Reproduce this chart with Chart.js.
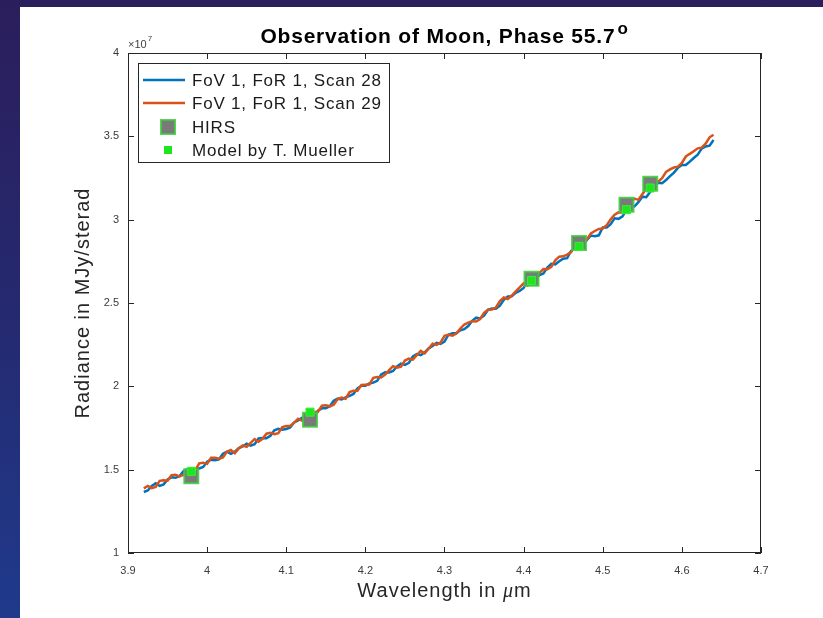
<!DOCTYPE html>
<html>
<head>
<meta charset="utf-8">
<script src="https://cdn.jsdelivr.net/npm/chart.js@4.4.0/dist/chart.umd.min.js"></script>
<style>
  html, body { margin: 0; padding: 0; }
  body {
    width: 823px; height: 618px; overflow: hidden; position: relative;
    background: linear-gradient(180deg, #2b1e5c 0%, #25296f 50%, #1f3a8c 100%);
  }
  #panel { position: absolute; left: 20px; top: 7px; width: 803px; height: 611px; background: #fff; }
  #chart { position: absolute; left: 0; top: 0; }
</style>
</head>
<body>
<div id="panel"></div>
<canvas id="chart" width="823" height="618"></canvas>
<script>
// Wavelength grid of the two scans (micrometres)
const wavelength = [
  3.920, 3.925, 3.930, 3.935, 3.940, 3.945, 3.950, 3.955, 3.960, 3.965,
  3.970, 3.975, 3.980, 3.985, 3.990, 3.995, 4.000, 4.005, 4.010, 4.015,
  4.020, 4.025, 4.030, 4.035, 4.040, 4.045, 4.050, 4.055, 4.060, 4.065,
  4.070, 4.075, 4.080, 4.085, 4.090, 4.095, 4.100, 4.105, 4.110, 4.115,
  4.120, 4.125, 4.130, 4.135, 4.140, 4.145, 4.150, 4.155, 4.160, 4.165,
  4.170, 4.175, 4.180, 4.185, 4.190, 4.195, 4.200, 4.205, 4.210, 4.215,
  4.220, 4.225, 4.230, 4.235, 4.240, 4.245, 4.250, 4.255, 4.260, 4.265,
  4.270, 4.275, 4.280, 4.285, 4.290, 4.295, 4.300, 4.305, 4.310, 4.315,
  4.320, 4.325, 4.330, 4.335, 4.340, 4.345, 4.350, 4.355, 4.360, 4.365,
  4.370, 4.375, 4.380, 4.385, 4.390, 4.395, 4.400, 4.405, 4.410, 4.415,
  4.420, 4.425, 4.430, 4.435, 4.440, 4.445, 4.450, 4.455, 4.460, 4.465,
  4.470, 4.475, 4.480, 4.485, 4.490, 4.495, 4.500, 4.505, 4.510, 4.515,
  4.520, 4.525, 4.530, 4.535, 4.540, 4.545, 4.550, 4.555, 4.560, 4.565,
  4.570, 4.575, 4.580, 4.585, 4.590, 4.595, 4.600, 4.605, 4.610, 4.615,
  4.620, 4.625, 4.630, 4.635, 4.640
];

// Radiance in units of 1e7 MJy/sterad
const scan28 = [
  1.366, 1.375, 1.403, 1.418, 1.403, 1.412, 1.441, 1.454, 1.451, 1.461,
  1.491, 1.503, 1.496, 1.504, 1.507, 1.516, 1.548, 1.560, 1.556, 1.562,
  1.595, 1.608, 1.595, 1.608, 1.629, 1.639, 1.656, 1.644, 1.653, 1.687,
  1.690, 1.689, 1.703, 1.736, 1.745, 1.739, 1.744, 1.753, 1.783, 1.796,
  1.811, 1.825, 1.810, 1.822, 1.854, 1.868, 1.868, 1.880, 1.913, 1.926,
  1.922, 1.934, 1.943, 1.954, 1.988, 2.004, 2.004, 2.017, 2.022, 2.033,
  2.072, 2.084, 2.083, 2.092, 2.120, 2.136, 2.129, 2.141, 2.179, 2.194,
  2.187, 2.204, 2.228, 2.242, 2.261, 2.255, 2.268, 2.310, 2.318, 2.318,
  2.337, 2.343, 2.362, 2.393, 2.412, 2.407, 2.425, 2.459, 2.467, 2.466,
  2.484, 2.519, 2.539, 2.540, 2.561, 2.572, 2.590, 2.633, 2.648, 2.649,
  2.667, 2.677, 2.712, 2.735, 2.732, 2.750, 2.766, 2.769, 2.812, 2.827,
  2.824, 2.847, 2.878, 2.905, 2.900, 2.906, 2.953, 2.953, 2.973, 3.008,
  3.005, 3.020, 3.059, 3.081, 3.079, 3.105, 3.138, 3.135, 3.168, 3.203,
  3.222, 3.219, 3.238, 3.261, 3.282, 3.311, 3.328, 3.328, 3.348, 3.370,
  3.390, 3.426, 3.439, 3.444, 3.478
];
const scan29 = [
  1.388, 1.402, 1.389, 1.396, 1.433, 1.436, 1.434, 1.467, 1.469, 1.460,
  1.468, 1.496, 1.506, 1.496, 1.538, 1.542, 1.535, 1.571, 1.571, 1.566,
  1.573, 1.607, 1.618, 1.599, 1.627, 1.645, 1.637, 1.661, 1.683, 1.667,
  1.685, 1.716, 1.721, 1.713, 1.719, 1.756, 1.762, 1.762, 1.782, 1.806,
  1.794, 1.801, 1.845, 1.846, 1.846, 1.884, 1.886, 1.880, 1.890, 1.924,
  1.933, 1.925, 1.966, 1.973, 1.973, 2.008, 2.010, 2.011, 2.051, 2.056,
  2.053, 2.070, 2.097, 2.121, 2.112, 2.118, 2.155, 2.166, 2.160, 2.187,
  2.213, 2.198, 2.227, 2.256, 2.248, 2.262, 2.303, 2.309, 2.304, 2.317,
  2.346, 2.371, 2.382, 2.391, 2.389, 2.404, 2.441, 2.460, 2.461, 2.473,
  2.511, 2.533, 2.524, 2.545, 2.570, 2.594, 2.618, 2.605, 2.628, 2.663,
  2.681, 2.704, 2.703, 2.717, 2.756, 2.778, 2.780, 2.790, 2.805, 2.843,
  2.868, 2.856, 2.882, 2.918, 2.932, 2.944, 2.947, 2.967, 3.002, 3.030,
  3.044, 3.043, 3.064, 3.103, 3.126, 3.119, 3.153, 3.186, 3.207, 3.235,
  3.228, 3.249, 3.287, 3.302, 3.313, 3.318, 3.340, 3.379, 3.395, 3.410,
  3.428, 3.432, 3.456, 3.494, 3.510
];

// HIRS channels and the thermal model
const bandWavelength = [3.98, 4.13, 4.41, 4.47, 4.53, 4.56];
const hirsRadiance = [1.46, 1.80, 2.645, 2.86, 3.09, 3.215];
const modelRadiance = [1.49, 1.845, 2.635, 2.84, 3.06, 3.19];

const seriesLabels = ['FoV 1, FoR 1, Scan 28', 'FoV 1, FoR 1, Scan 29', 'HIRS', 'Model by T. Mueller'];

const FONT = '"Liberation Sans", Arial, Helvetica, sans-serif';
const BLUE = '#0072BD';
const ORANGE = '#D95319';
const AXIS = '#262626';

const toPoints = (xs, ys) => xs.map((x, i) => ({ x: x, y: ys[i] }));

// Axis box, inward ticks, titles and legend drawn MATLAB style
const matlabFrame = {
  id: 'matlabFrame',
  afterDraw(chart) {
    const { ctx, chartArea: a, scales: { x, y } } = chart;
    ctx.save();

    // box + ticks
    ctx.strokeStyle = AXIS;
    ctx.lineWidth = 1;
    ctx.strokeRect(a.left + 0.5, a.top + 0.5, a.right - a.left - 1, a.bottom - a.top - 1);
    ctx.beginPath();
    x.ticks.forEach(t => {
      const px = Math.round(x.getPixelForValue(t.value)) + 0.5;
      ctx.moveTo(px, a.bottom); ctx.lineTo(px, a.bottom - 6);
      ctx.moveTo(px, a.top); ctx.lineTo(px, a.top + 6);
    });
    y.ticks.forEach(t => {
      const py = Math.round(y.getPixelForValue(t.value)) + 0.5;
      ctx.moveTo(a.left, py); ctx.lineTo(a.left + 6, py);
      ctx.moveTo(a.right, py); ctx.lineTo(a.right - 6, py);
    });
    ctx.stroke();

    // exponent label
    ctx.fillStyle = '#404040';
    ctx.textBaseline = 'alphabetic';
    ctx.textAlign = 'left';
    ctx.font = '11px ' + FONT;
    ctx.fillText('\u00d710', a.left, a.top - 5);
    const ew = ctx.measureText('\u00d710').width;
    ctx.font = '8px ' + FONT;
    ctx.fillText('7', a.left + ew + 1, a.top - 12);

    // title
    const cx = (a.left + a.right) / 2;
    const main = 'Observation of Moon, Phase 55.7';
    ctx.fillStyle = '#000';
    ctx.letterSpacing = '0.8px';
    ctx.font = 'bold 21px ' + FONT;
    const w1 = ctx.measureText(main).width;
    ctx.font = 'bold 17px ' + FONT;
    const w2 = ctx.measureText('o').width;
    const sx = cx - (w1 + w2 + 2) / 2;
    ctx.font = 'bold 21px ' + FONT;
    ctx.fillText(main, sx, a.top - 10);
    ctx.font = 'bold 17px ' + FONT;
    ctx.fillText('o', sx + w1 + 2, a.top - 19);

    // x axis title with italic mu
    ctx.fillStyle = '#262626';
    ctx.letterSpacing = '1px';
    const parts = [['Wavelength in ', '20px ' + FONT], ['\u03bc', 'italic 20px "Liberation Serif", serif'], ['m', '20px ' + FONT]];
    let total = 0;
    parts.forEach(p => { ctx.font = p[1]; total += ctx.measureText(p[0]).width; });
    let px = cx - total / 2;
    parts.forEach(p => { ctx.font = p[1]; ctx.fillText(p[0], px, a.bottom + 44); px += ctx.measureText(p[0]).width; });

    // y axis title
    ctx.save();
    ctx.translate(a.left - 39, (a.top + a.bottom) / 2);
    ctx.rotate(-Math.PI / 2);
    ctx.textAlign = 'center';
    ctx.font = '20px ' + FONT;
    ctx.fillText('Radiance in MJy/sterad', 0, 0);
    ctx.restore();

    // legend
    const lx = a.left + 10, ly = a.top + 10, lw = 251, lh = 99;
    ctx.letterSpacing = '0.8px';
    ctx.fillStyle = '#fff';
    ctx.fillRect(lx, ly, lw, lh);
    ctx.strokeStyle = AXIS;
    ctx.lineWidth = 1;
    ctx.strokeRect(lx + 0.5, ly + 0.5, lw, lh);
    const rows = [17, 40, 64, 87];
    ctx.lineWidth = 2.5;
    [BLUE, ORANGE].forEach((c, i) => {
      ctx.strokeStyle = c;
      ctx.beginPath();
      ctx.moveTo(lx + 5, ly + rows[i]);
      ctx.lineTo(lx + 47, ly + rows[i]);
      ctx.stroke();
    });
    ctx.fillStyle = '#7a7a7a';
    ctx.fillRect(lx + 23, ly + rows[2] - 7, 14, 14);
    ctx.strokeStyle = 'rgba(60, 205, 60, 0.85)';
    ctx.lineWidth = 2;
    ctx.strokeRect(lx + 23, ly + rows[2] - 7, 14, 14);
    ctx.fillStyle = '#1ee61e';
    ctx.fillRect(lx + 26, ly + rows[3] - 4, 8, 8);
    ctx.fillStyle = '#1a1a1a';
    ctx.font = '17px ' + FONT;
    ctx.textBaseline = 'middle';
    seriesLabels.forEach((s, i) => ctx.fillText(s, lx + 54, ly + rows[i] + 1));

    ctx.restore();
  }
};

new Chart(document.getElementById('chart'), {
  type: 'scatter',
  data: {
    datasets: [
      {
        label: seriesLabels[3],
        data: toPoints(bandWavelength, modelRadiance),
        pointStyle: 'rect',
        pointRadius: 5.7,
        backgroundColor: '#1ee61e',
        borderColor: '#3bec3b',
        borderWidth: 1,
        order: 0
      },
      {
        label: seriesLabels[2],
        data: toPoints(bandWavelength, hirsRadiance),
        pointStyle: 'rect',
        pointRadius: 9.9,
        backgroundColor: '#7a7a7a',
        borderColor: 'rgba(60, 205, 60, 0.85)',
        borderWidth: 2,
        order: 1
      },
      {
        label: seriesLabels[1],
        data: toPoints(wavelength, scan29),
        showLine: true,
        borderColor: ORANGE,
        borderWidth: 2.5,
        pointRadius: 0,
        tension: 0,
        order: 2
      },
      {
        label: seriesLabels[0],
        data: toPoints(wavelength, scan28),
        showLine: true,
        borderColor: BLUE,
        borderWidth: 2.5,
        pointRadius: 0,
        tension: 0,
        order: 3
      }
    ]
  },
  options: {
    responsive: false,
    animation: false,
    layout: { padding: { left: 0, top: 53, right: 62, bottom: 0 } },
    plugins: {
      legend: { display: false },
      title: { display: false },
      tooltip: { enabled: false }
    },
    scales: {
      x: {
        type: 'linear',
        min: 3.9,
        max: 4.7,
        grid: { display: false, drawTicks: false },
        border: { display: false },
        ticks: {
          stepSize: 0.1,
          padding: 11,
          color: '#3a3a3a',
          font: { family: FONT, size: 11 },
          maxRotation: 0,
          callback: v => String(+v.toFixed(1))
        },
        afterFit: s => { s.height = 65; }
      },
      y: {
        type: 'linear',
        min: 1,
        max: 4,
        grid: { display: false, drawTicks: false },
        border: { display: false },
        ticks: {
          stepSize: 0.5,
          padding: 9,
          color: '#3a3a3a',
          font: { family: FONT, size: 11 },
          callback: v => String(+v.toFixed(1))
        },
        afterFit: s => { s.width = 128; }
      }
    }
  },
  plugins: [matlabFrame]
});
</script>
</body>
</html>
